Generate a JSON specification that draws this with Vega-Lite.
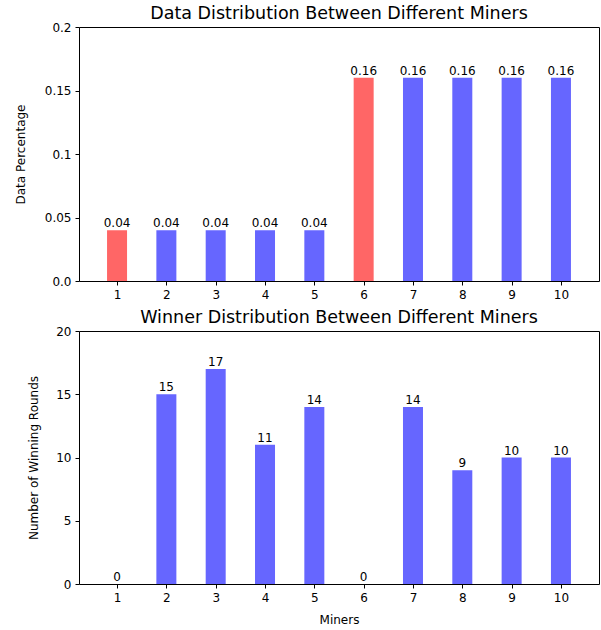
{
  "$schema": "https://vega.github.io/schema/vega-lite/v6.json",
  "padding": {"left": 13, "top": 4, "right": 3, "bottom": 2},
  "spacing": 7,
  "config": {
    "font": "DejaVu Sans",
    "view": {"stroke": "black", "strokeWidth": 1},
    "axis": {
      "domain": false, "grid": false, "tickColor": "black", "tickSize": 4, "tickWidth": 1,
      "labelColor": "black", "labelFontSize": 12, "labelFont": "DejaVu Sans", "labelPadding": 4,
      "titleColor": "black", "titleFontSize": 12, "titleFontWeight": "normal", "titleFont": "DejaVu Sans"
    },
    "title": {"fontSize": 17.5, "fontWeight": "normal", "color": "black", "font": "DejaVu Sans", "offset": -1.5}
  },
  "datasets": {
    "dataPct": [
      {"miner": 1, "value": 0.04, "type": "red"},
      {"miner": 2, "value": 0.04, "type": "blue"},
      {"miner": 3, "value": 0.04, "type": "blue"},
      {"miner": 4, "value": 0.04, "type": "blue"},
      {"miner": 5, "value": 0.04, "type": "blue"},
      {"miner": 6, "value": 0.16, "type": "red"},
      {"miner": 7, "value": 0.16, "type": "blue"},
      {"miner": 8, "value": 0.16, "type": "blue"},
      {"miner": 9, "value": 0.16, "type": "blue"},
      {"miner": 10, "value": 0.16, "type": "blue"}
    ],
    "wins": [
      {"miner": 1, "value": 0, "type": "red"},
      {"miner": 2, "value": 15, "type": "blue"},
      {"miner": 3, "value": 17, "type": "blue"},
      {"miner": 4, "value": 11, "type": "blue"},
      {"miner": 5, "value": 14, "type": "blue"},
      {"miner": 6, "value": 0, "type": "red"},
      {"miner": 7, "value": 14, "type": "blue"},
      {"miner": 8, "value": 9, "type": "blue"},
      {"miner": 9, "value": 10, "type": "blue"},
      {"miner": 10, "value": 10, "type": "blue"}
    ]
  },
  "vconcat": [
    {
      "title": "Data Distribution Between Different Miners",
      "width": 520, "height": 254,
      "data": {"name": "dataPct"},
      "encoding": {
        "x": {"field": "miner", "type": "quantitative", "scale": {"domain": [0.33, 10.67], "nice": false, "zero": false},
              "axis": {"values": [1,2,3,4,5,6,7,8,9,10], "title": null, "format": "d"}},
        "y": {"field": "value", "type": "quantitative", "scale": {"domain": [0, 0.2], "nice": false},
              "axis": {"values": [0, 0.05, 0.1, 0.15, 0.2], "title": "Data Percentage", "titlePadding": 17,
                       "labelExpr": "datum.value === 0 ? '0.0' : datum.value === 0.1 ? '0.1' : datum.value === 0.2 ? '0.2' : format(datum.value, '.2f')"}}
      },
      "layer": [
        {"mark": {"type": "bar", "width": 20},
         "encoding": {"color": {"field": "type", "type": "nominal", "scale": {"domain": ["red", "blue"], "range": ["#ff6666", "#6666ff"]}, "legend": null}}},
        {"mark": {"type": "text", "baseline": "bottom", "dy": 0, "fontSize": 12, "color": "black"},
         "encoding": {"text": {"field": "value", "type": "quantitative", "format": ".2f"}}}
      ]
    },
    {
      "title": "Winner Distribution Between Different Miners",
      "width": 520, "height": 253,
      "data": {"name": "wins"},
      "encoding": {
        "x": {"field": "miner", "type": "quantitative", "scale": {"domain": [0.33, 10.67], "nice": false, "zero": false},
              "axis": {"values": [1,2,3,4,5,6,7,8,9,10], "title": "Miners", "format": "d", "titlePadding": 11}},
        "y": {"field": "value", "type": "quantitative", "scale": {"domain": [0, 20], "nice": false},
              "axis": {"values": [0, 5, 10, 15, 20], "title": "Number of Winning Rounds", "titlePadding": 15}}
      },
      "layer": [
        {"mark": {"type": "bar", "width": 20},
         "encoding": {"color": {"field": "type", "type": "nominal", "scale": {"domain": ["red", "blue"], "range": ["#ff6666", "#6666ff"]}, "legend": null}}},
        {"mark": {"type": "text", "baseline": "bottom", "dy": 0, "fontSize": 12, "color": "black"},
         "encoding": {"text": {"field": "value", "type": "quantitative", "format": "d"}}}
      ]
    }
  ]
}
